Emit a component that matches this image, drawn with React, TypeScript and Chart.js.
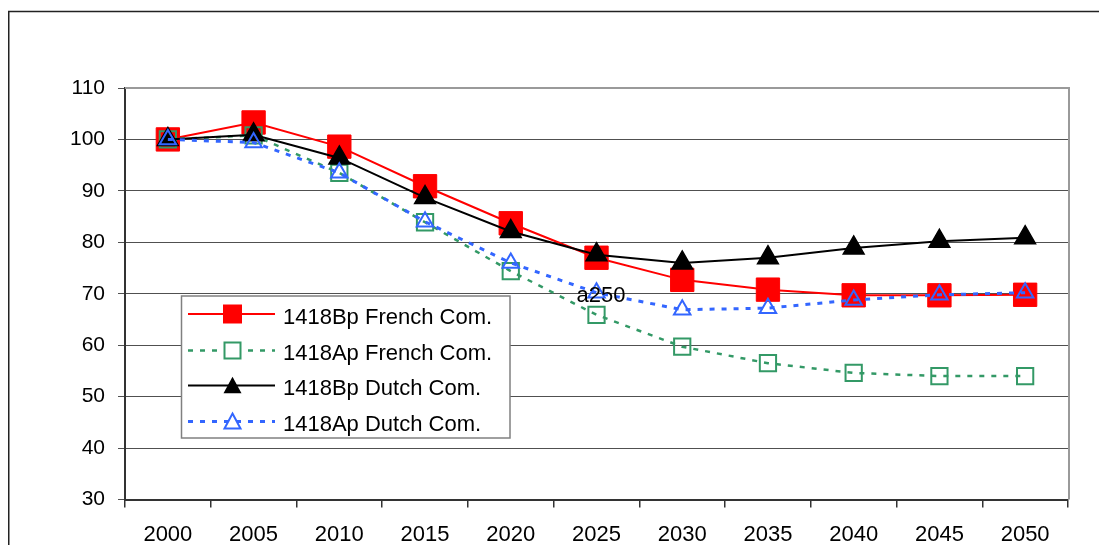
import { useEffect, useRef } from 'react';
import { Chart, registerables } from 'chart.js';

Chart.register(...registerables);

const years = ['2000', '2005', '2010', '2015', '2020', '2025', '2030', '2035', '2040', '2045', '2050'];
const bpFrench = [100, 103.3, 98.6, 90.9, 83.7, 77.0, 72.7, 70.8, 69.7, 69.7, 69.8];
const apFrench = [100, 100.8, 93.5, 83.9, 74.4, 65.9, 59.7, 56.5, 54.6, 54.0, 54.0];
const bpDutch = [100, 100.9, 96.4, 88.7, 82.1, 77.6, 76.0, 77.0, 78.9, 80.2, 80.9];
const apDutch = [100, 99.4, 93.5, 84.0, 76.0, 70.2, 66.9, 67.2, 68.8, 69.8, 70.2];
const seriesNames = ['1418Bp French Com.', '1418Ap French Com.', '1418Bp Dutch Com.', '1418Ap Dutch Com.'];
const yMin = 30;
const yMax = 110;
const yStep = 10;
const noteText = 'a250';

const FONT = '"Liberation Sans", Arial, Helvetica, sans-serif';

type Style = {
  color: string;
  width: number;
  dash: number[];
  marker: 'rect' | 'triangle';
  filled: boolean;
  radius: number;
  pbw: number;
  legendSize: number;
};

const styles: Style[] = [
  { color: '#ff0000', width: 2, dash: [], marker: 'rect', filled: true, radius: 16.5, pbw: 1, legendSize: 19 },
  { color: '#339966', width: 2.5, dash: [5, 7], marker: 'rect', filled: false, radius: 11.5, pbw: 2, legendSize: 16 },
  { color: '#000000', width: 2, dash: [], marker: 'triangle', filled: true, radius: 12, pbw: 1.5, legendSize: 18 },
  { color: '#3366ff', width: 3, dash: [5, 7], marker: 'triangle', filled: false, radius: 9.5, pbw: 2, legendSize: 16 },
];

function drawMarker(ctx: CanvasRenderingContext2D, s: Style, x: number, y: number) {
  const size = s.legendSize;
  ctx.save();
  ctx.setLineDash([]);
  ctx.beginPath();
  if (s.marker === 'rect') {
    ctx.rect(x - size / 2, y - size / 2, size, size);
  } else {
    const h = (size * Math.sqrt(3)) / 2;
    ctx.moveTo(x, y - h / 2 - 1);
    ctx.lineTo(x + size / 2, y + h / 2);
    ctx.lineTo(x - size / 2, y + h / 2);
    ctx.closePath();
  }
  if (s.filled) {
    ctx.fillStyle = s.color;
    ctx.fill();
  } else {
    ctx.fillStyle = '#ffffff';
    ctx.fill();
    ctx.strokeStyle = s.color;
    ctx.lineWidth = 2;
    ctx.stroke();
  }
  ctx.restore();
}

const framePlugin = {
  id: 'frame',
  beforeDraw(chart: any) {
    const ctx: CanvasRenderingContext2D = chart.ctx;
    ctx.save();
    ctx.fillStyle = '#ffffff';
    ctx.fillRect(0, 0, chart.width, chart.height);
    ctx.strokeStyle = '#222222';
    ctx.lineWidth = 1.5;
    ctx.beginPath();
    ctx.moveTo(0.75, chart.height);
    ctx.lineTo(0.75, 3.5);
    ctx.lineTo(chart.width, 3.5);
    ctx.stroke();
    ctx.restore();
  },
  beforeDatasetsDraw(chart: any) {
    const ctx: CanvasRenderingContext2D = chart.ctx;
    const a = chart.chartArea;
    ctx.save();
    ctx.strokeStyle = '#9a9a9a';
    ctx.lineWidth = 2;
    ctx.beginPath();
    ctx.moveTo(a.left, a.top);
    ctx.lineTo(a.right + 1, a.top);
    ctx.lineTo(a.right + 1, a.bottom);
    ctx.stroke();
    ctx.restore();
  },
  afterDraw(chart: any) {
    const ctx: CanvasRenderingContext2D = chart.ctx;
    ctx.save();
    const bx = 173.5, by = 288, bw = 328.5, bh = 142;
    ctx.fillStyle = '#ffffff';
    ctx.fillRect(bx, by, bw, bh);
    ctx.strokeStyle = '#808080';
    ctx.lineWidth = 1.5;
    ctx.strokeRect(bx, by, bw, bh);
    const rows = [306, 342.5, 377.5, 413.5];
    ctx.font = `22px ${FONT}`;
    ctx.textAlign = 'left';
    ctx.textBaseline = 'alphabetic';
    seriesNames.forEach((name, i) => {
      const s = styles[i];
      const y = rows[i];
      ctx.save();
      ctx.strokeStyle = s.color;
      ctx.lineWidth = s.width;
      ctx.setLineDash(s.dash);
      ctx.beginPath();
      ctx.moveTo(180, y);
      ctx.lineTo(267, y);
      ctx.stroke();
      ctx.restore();
      drawMarker(ctx, s, 224.5, y);
      ctx.fillStyle = '#000000';
      ctx.fillText(name, 275, y + 9.5);
    });
    ctx.font = `22px ${FONT}`;
    ctx.textAlign = 'center';
    ctx.fillStyle = '#000000';
    ctx.fillText(noteText, 593, 293.5);
    ctx.restore();
  },
};

export default function App() {
  const ref = useRef<HTMLCanvasElement>(null);
  useEffect(() => {
    document.documentElement.style.overflow = 'hidden';
    document.body.style.overflow = 'hidden';
    const values = [bpFrench, apFrench, bpDutch, apDutch];
    const chart = new Chart(ref.current as HTMLCanvasElement, {
      type: 'line',
      data: {
        labels: years,
        datasets: values.map((data, i) => {
          const s = styles[i];
          return {
            label: seriesNames[i],
            data,
            borderColor: s.color,
            backgroundColor: s.color,
            borderWidth: s.width,
            borderDash: s.dash,
            tension: 0,
            fill: false,
            pointStyle: s.marker,
            pointRadius: s.radius,
            pointHoverRadius: s.radius,
            pointBorderWidth: s.pbw,
            pointBorderColor: s.color,
            pointBackgroundColor: s.filled ? s.color : 'rgba(255,255,255,0)',
            order: 4 - i,
          };
        }),
      },
      options: {
        responsive: false,
        animation: false,
        events: [],
        layout: { padding: { top: 80, right: 39, left: 0, bottom: 0 } },
        plugins: { legend: { display: false }, tooltip: { enabled: false } },
        scales: {
          x: {
            type: 'category',
            offset: true,
            grid: { offset: true, drawOnChartArea: false, tickLength: 8, color: '#333333', lineWidth: 1.5 },
            border: { color: '#333333', width: 2 },
            ticks: { font: { family: FONT, size: 22 }, color: '#000000', padding: 14, maxRotation: 0, autoSkip: false },
            afterFit: (s: any) => {
              s.height = 45.5;
            },
          },
          y: {
            min: yMin,
            max: yMax,
            ticks: { stepSize: yStep, font: { family: FONT, size: 21 }, color: '#000000', padding: 13 },
            grid: { color: '#505050', lineWidth: 1, tickLength: 7 },
            border: { color: '#333333', width: 2 },
            afterFit: (s: any) => {
              s.width = 117;
            },
          },
        },
      },
      plugins: [framePlugin],
    });
    return () => chart.destroy();
  }, []);
  return <canvas ref={ref} width={1099} height={537} style={{ display: 'block' }} />;
}
